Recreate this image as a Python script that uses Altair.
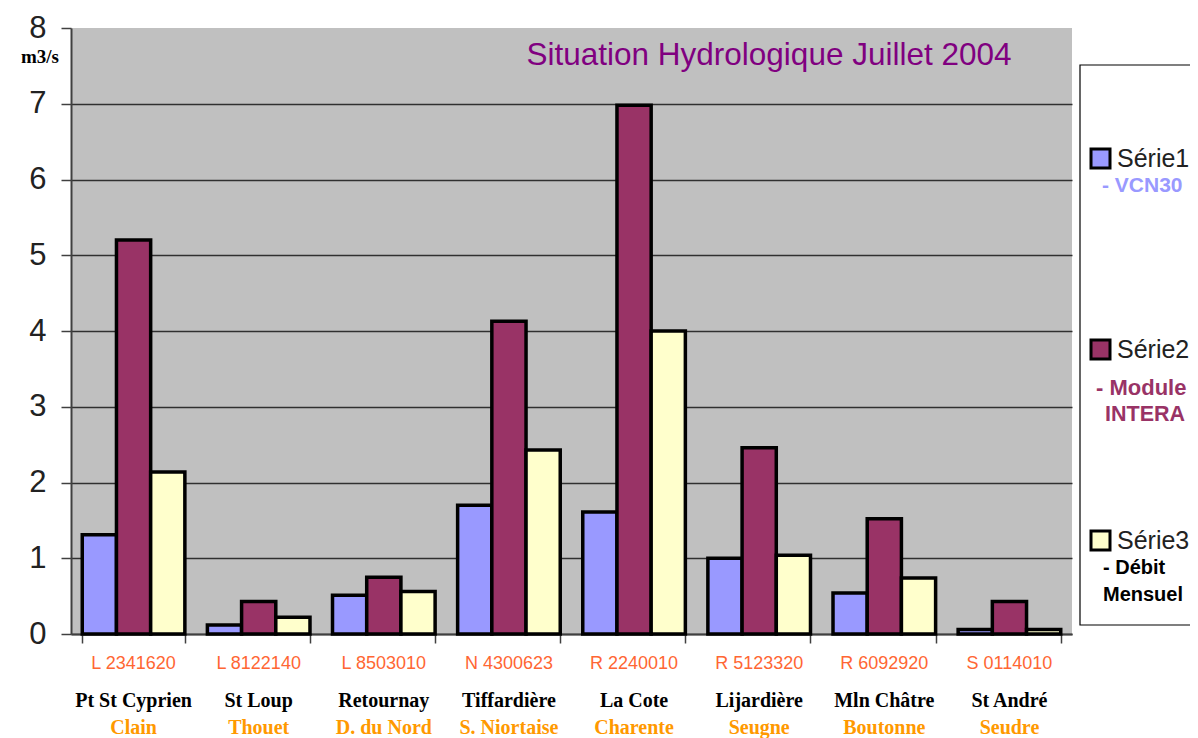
import altair as alt
import pandas as pd

codes = ["L 2341620", "L 8122140", "L 8503010", "N 4300623",
         "R 2240010", "R 5123320", "R 6092920", "S 0114010"]
names = ["Pt St Cyprien", "St Loup", "Retournay", "Tiffardière",
         "La Cote", "Lijardière", "Mln Châtre", "St André"]
rivers = ["Clain", "Thouet", "D. du Nord", "S. Niortaise",
          "Charente", "Seugne", "Boutonne", "Seudre"]
serie1 = [1.31, 0.12, 0.51, 1.70, 1.61, 1.00, 0.54, 0.06]
serie2 = [5.20, 0.43, 0.75, 4.13, 6.98, 2.46, 1.52, 0.43]
serie3 = [2.14, 0.22, 0.56, 2.43, 4.00, 1.04, 0.74, 0.06]
series = ["Série1", "Série2", "Série3"]
colors = ["#9999FF", "#993366", "#FFFFCC"]

rows = []
for i, c in enumerate(codes):
    for s, vals in zip(series, [serie1, serie2, serie3]):
        rows.append({"code": c, "serie": s, "value": vals[i]})
df = pd.DataFrame(rows)
lab = pd.DataFrame({"code": codes, "name": names, "river": rivers})

W, H = 1001, 606
SANS = "Liberation Sans"
SERIF = "Liberation Serif"

xscale = alt.Scale(domain=codes, paddingInner=0.18, paddingOuter=0.09)
xenc = alt.X("code:N", scale=xscale, sort=codes,
             axis=alt.Axis(labels=False, title=None, ticks=True, tickBand="extent",
                           tickSize=9, tickColor="#404040", tickWidth=1.5,
                           domainColor="#404040", domainWidth=2, grid=False))

bars = alt.Chart(df).mark_bar(stroke="black", strokeWidth=3.5, opacity=1).encode(
    x=xenc,
    xOffset=alt.XOffset("serie:N", sort=series, scale=alt.Scale(paddingInner=0, paddingOuter=0)),
    y=alt.Y("value:Q", scale=alt.Scale(domain=[0, 8], nice=False, zero=True),
            axis=alt.Axis(values=list(range(9)), title=None, grid=True,
                          gridColor={"condition": {"test": "datum.value == 8", "value": "transparent"},
                                     "value": "#303030"},
                          gridWidth=1.5, domainColor="#404040", domainWidth=2,
                          tickColor="#404040", tickWidth=1.5, tickSize=10,
                          labelFontSize=31, labelFont=SANS, labelColor="#222222",
                          labelPadding=15)),
    color=alt.Color("serie:N", sort=series,
                    scale=alt.Scale(domain=series, range=colors),
                    legend=alt.Legend(orient="none", legendX=1017, legendY=118, title=None,
                                      direction="vertical", rowPadding=160,
                                      symbolType="square", symbolSize=361,
                                      symbolStrokeColor="black", symbolStrokeWidth=3,
                                      symbolOpacity=1, labelFontSize=25, labelFont=SANS,
                                      labelColor="#222222", labelOffset=4, padding=0)),
)

def text_row(field, y, font, size, color, bold):
    return alt.Chart(lab).mark_text(font=font, fontSize=size, color=color,
                                    fontWeight="bold" if bold else "normal",
                                    baseline="middle", align="center").encode(
        x=alt.X("code:N", scale=xscale, sort=codes),
        y=alt.value(y),
        text=f"{field}:N",
    )

codes_t = text_row("code", 636, SANS, 18, "#FF6633", False)
names_t = text_row("name", 673, SERIF, 20, "black", True)
rivers_t = text_row("river", 700, SERIF, 20, "#FF9900", True)

one = pd.DataFrame({"k": [0]})

def note(txt, x, y, font, size, color, bold, align="left"):
    return alt.Chart(one).mark_text(text=txt, font=font, fontSize=size, color=color,
                                    fontWeight="bold" if bold else "normal",
                                    baseline="middle", align=align).encode(
        x=alt.value(x), y=alt.value(y))

legend_box = alt.Chart(one).mark_rect(fill="white", stroke="black", strokeWidth=1.2).encode(
    x=alt.value(1009), x2=alt.value(1200), y=alt.value(37), y2=alt.value(597))

title = note("Situation Hydrologique Juillet 2004", 698, 28, SANS, 31.5, "#800080", False, "center")
unit = note("m3/s", -31, 29, SERIF, 19, "black", True, "center")
n1 = note("- VCN30", 1031, 158, SANS, 21, "#9999FF", True)
n2a = note("- Module", 1025, 360, SANS, 22, "#993366", True)
n2b = note("INTERA", 1034, 387, SANS, 21.5, "#993366", True)
n3a = note("- Débit", 1032, 540, SANS, 20, "black", True)
n3b = note("Mensuel", 1032, 567, SANS, 20, "black", True)

chart = alt.layer(
    legend_box, bars, codes_t, names_t, rivers_t, title, unit, n1, n2a, n2b, n3a, n3b
).properties(
    width=W, height=H,
    autosize=alt.AutoSizeParams(type="none"),
    padding={"left": 63, "top": 20, "right": 118, "bottom": 104},
    background="white",
).configure_view(fill="#C0C0C0", strokeWidth=0)

chart.save("out.html", embed_options={"renderer": "svg", "actions": False})
